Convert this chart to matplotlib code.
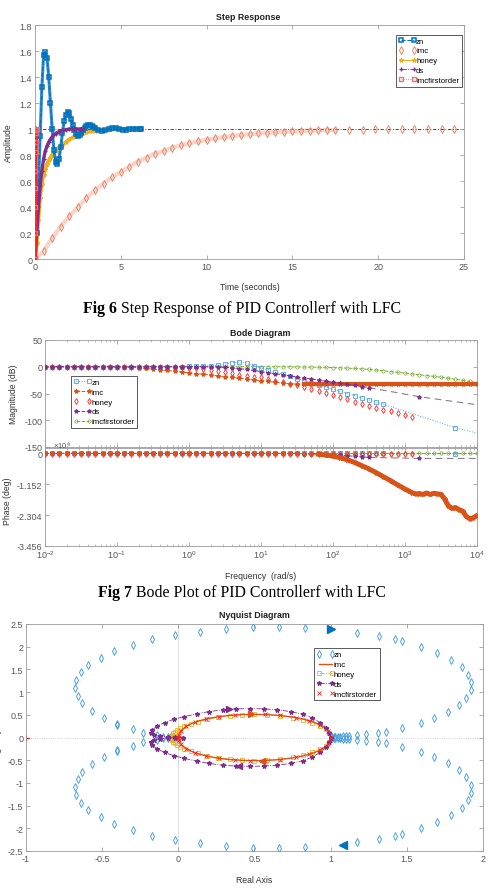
import numpy as np
import matplotlib
matplotlib.use('Agg')
import matplotlib.pyplot as plt

plt.rcParams['font.family'] = ['Liberation Sans', 'DejaVu Sans']
plt.rcParams['mathtext.fontset'] = 'custom'
plt.rcParams['mathtext.rm'] = 'Liberation Sans'
plt.rcParams['mathtext.it'] = 'Liberation Sans:italic'
plt.rcParams['axes.unicode_minus'] = False

# ---------------- Step response data ----------------
zn_t = [0.0, 0.1, 0.2, 0.3, 0.4, 0.5, 0.6, 0.7, 0.8, 0.9, 1.0, 1.1, 1.2, 1.3, 1.4, 1.5, 1.6, 1.7,
        1.8, 1.9, 2.0, 2.1, 2.2, 2.3, 2.4, 2.5, 2.6, 2.7, 2.8, 2.9, 3.0, 3.1, 3.2, 3.3, 3.4, 3.5,
        3.7, 3.9, 4.1, 4.3, 4.5, 4.7, 4.9, 5.1, 5.3, 5.5, 5.7, 5.9, 6.1, 6.2]
zn_y = [0.0, 0.2, 0.55, 0.95, 1.32, 1.57, 1.59, 1.55, 1.40, 1.20, 1.00, 0.84, 0.75, 0.73, 0.77, 0.86,
        0.97, 1.06, 1.11, 1.13, 1.12, 1.08, 1.03, 0.99, 0.96, 0.95, 0.955, 0.97, 0.99, 1.01, 1.025,
        1.03, 1.03, 1.025, 1.015, 1.005,
        0.99, 0.985, 0.99, 1.0, 1.01, 1.008, 1.0, 0.995, 0.995, 1.0, 1.002, 1.001, 1.0, 1.0]
imc_t = [0.0, 0.5, 1.0, 1.5, 2.0, 2.5, 3.0, 3.5, 4.0, 4.5, 5.0, 5.5, 6.0, 6.5, 7.0, 7.5, 8.0, 8.5,
         9.0, 9.5, 10.0, 10.5, 11.0, 11.5, 12.0, 12.5, 13.0, 13.5, 14.0, 14.5, 15.0, 15.5, 16.0,
         16.5, 17.0, 17.5]
imc_y = [0.0, 0.06, 0.16, 0.25, 0.33, 0.40, 0.47, 0.53, 0.58, 0.63, 0.67, 0.71, 0.75, 0.78, 0.81,
         0.83, 0.855, 0.875, 0.89, 0.905, 0.915, 0.927, 0.937, 0.945, 0.953, 0.96, 0.966, 0.971,
         0.975, 0.979, 0.982, 0.985, 0.987, 0.989, 0.991, 0.992]
imc_tail_t = [18.3, 19.1, 19.8, 20.6, 21.4, 22.1, 22.9, 23.7, 24.4]
imc_tail_y = [0.995, 0.996, 0.997, 0.998, 0.998, 0.999, 0.999, 1.0, 1.0]
honey_t = [0.0, 0.1, 0.2, 0.3, 0.4, 0.5, 0.6, 0.7, 0.8, 0.9, 1.0, 1.2, 1.4, 1.6, 1.8, 2.0, 2.2, 2.4,
           2.6, 2.8, 3.0, 3.3, 3.6, 4.0, 4.5, 5.0, 5.5, 6.0]
honey_y = [0.0, 0.12, 0.3, 0.47, 0.58, 0.65, 0.69, 0.73, 0.76, 0.78, 0.8, 0.83, 0.86, 0.88, 0.9,
           0.92, 0.935, 0.95, 0.96, 0.97, 0.975, 0.982, 0.988, 0.993, 0.997, 1.0, 1.0, 1.0]
ds_t = [0.0, 0.1, 0.2, 0.3, 0.4, 0.5, 0.6, 0.7, 0.8, 0.9, 1.0, 1.2, 1.4, 1.6, 1.8, 2.0, 2.2, 2.4, 2.6, 2.8]
ds_y = [0.0, 0.2, 0.4, 0.56, 0.68, 0.77, 0.83, 0.87, 0.9, 0.92, 0.94, 0.965, 0.98, 0.99, 0.995,
        1.0, 1.0, 1.0, 1.0, 1.0]
fo_t = [0.0, 0.005, 0.01, 0.015, 0.02, 0.03, 0.04, 0.06, 0.08, 0.1]
fo_y = [0.0, 0.2, 0.4, 0.55, 0.68, 0.82, 0.9, 0.97, 0.99, 1.0]

# ---------------- Bode data (log10 of rad/s) ----------------
bode_logw = np.linspace(-2.0, 4.0, 61)
zn_mag = [0.0] * 17 + [0.1, 0.2, 0.3, 0.5,
          0.8, 1.3, 2.0, 3.2, 5.0, 7.5, 8.8, 6.5, 2.0, -2.0,
          -6, -10, -14, -18, -22, -26, -30, -34, -38, -42, -46, -50, -54, -58, -62, -66, -70]
zn_mag_tail_logw = [2.7, 3.7, 4.0]
zn_mag_tail = [-70, -114, -124]
imc_mag = [0.0] * 10 + [-0.5, -0.8, -1.2, -2.0, -3.2, -4.5, -5.8, -7.0, -8.5, -10.0,
           -11.5, -12.8, -14, -15.5, -17, -18.5, -20, -21.5, -23, -24.5,
           -26, -27.5, -29, -30.5, -31.8, -32.5, -33] + [-33.0] * 24
honey_mag = [0.0] * 19 + [-0.5, -1.5,
             -3, -4.5, -6.5, -8.5, -10.5, -12.5, -14.5, -16.5, -18.5, -20,
             -23, -26, -29, -32, -35, -38, -42, -45.5, -49, -53,
             -57, -61, -65, -69, -73, -76.5, -80, -83.5, -87, -90, -93]
ds_mag = [0.0] * 24 + [-0.5, -1.2, -2.2, -3.5, -5, -7, -9,
          -11, -13, -15, -17, -19, -21, -23, -25, -27, -29, -31, -33, -35, -37, -39]
ds_mag_tail_logw = [2.5, 3.2, 4.0]
ds_mag_tail = [-39, -56, -71]
fo_mag = [0.0] * 35 + [-0.2, -0.4, -0.6, -0.9, -1.2, -1.6, -2.0, -2.6, -3.2, -4.0, -5.0, -6.2,
          -7.5, -9, -10.5, -12, -13.5, -15, -16.5, -18, -19.5, -21.5, -23.5, -25.5, -27.5, -30]

# phase in units of 1e4 deg
zn_phase = [0.0] * 48
zn_phase_tail = [0.0, -0.01, -0.01]
imc_phase_logw = list(bode_logw[:38]) + [1.8, 1.9, 2.0, 2.1, 2.2, 2.3, 2.4, 2.5, 2.6, 2.7, 2.8, 2.9,
                                          3.0, 3.05, 3.1, 3.15, 3.2, 3.25, 3.3, 3.35, 3.4, 3.45, 3.5,
                                          3.55, 3.6, 3.65, 3.7, 3.75, 3.8, 3.85, 3.9, 3.95, 4.0]
imc_phase = [0.0] * 36 + [-0.01, -0.02,
             -0.03, -0.06, -0.1, -0.16, -0.24, -0.34, -0.46, -0.58, -0.72, -0.87, -1.02, -1.18, -1.33,
             -1.40, -1.47, -1.51, -1.50, -1.53, -1.48, -1.53, -1.49, -1.51, -1.53, -1.70, -1.95,
             -2.05, -2.02, -2.10, -2.15, -2.35, -2.44, -2.40, -2.32]
honey_phase = [-0.02] * 52
ds_phase = [0.0] * 36 + [-0.01, -0.02, -0.03, -0.045, -0.06, -0.075, -0.09, -0.11, -0.13, -0.15]
ds_phase_tail = [-0.15, -0.19, -0.19]
fo_phase = [0.0] * 61

# ---------------- Nyquist data (upper half; lower half is the conjugate) ----------------
nzn_x = [1.0, 1.01, 1.02, 1.03, 1.045, 1.06, 1.08, 1.1, 1.12, 1.17, 1.23, 1.31, 1.36, 1.47, 1.59,
         1.68, 1.77, 1.84, 1.89, 1.92, 1.92, 1.90, 1.86, 1.79, 1.70, 1.59, 1.47, 1.42, 1.32, 1.17,
         0.83, 0.66, 0.49, 0.31, 0.14, -0.02, -0.17, -0.30, -0.42, -0.51, -0.59, -0.64, -0.67,
         -0.68, -0.66, -0.63, -0.57, -0.49, -0.40, -0.40, -0.30, -0.23, -0.14, -0.10, -0.07,
         -0.05, -0.03, -0.01]
nzn_y = [0.0, 0.003, 0.005, 0.008, 0.012, 0.018, 0.025, 0.03, 0.04, 0.05, 0.07, 0.095, 0.12, 0.21,
         0.31, 0.42, 0.57, 0.71, 0.88, 1.05, 1.22, 1.38, 1.55, 1.71, 1.87, 2.0, 2.12, 2.16, 2.23,
         2.31, 2.42, 2.44, 2.43, 2.39, 2.33, 2.26, 2.18, 2.04, 1.90, 1.76, 1.60, 1.44, 1.27, 1.09,
         0.91, 0.75, 0.59, 0.43, 0.30, 0.28, 0.18, 0.11, 0.05, 0.02, 0.01, 0.005, 0.002, 0.0]
nimc_x = [1.0, 0.995, 0.98, 0.95, 0.91, 0.86, 0.8, 0.73, 0.65, 0.57, 0.5, 0.43, 0.35, 0.27, 0.2,
          0.14, 0.09, 0.05, 0.02, 0.005, 0.0]
nimc_y = [0.0, 0.08, 0.16, 0.24, 0.31, 0.37, 0.42, 0.46, 0.49, 0.505, 0.51, 0.505, 0.49, 0.46,
          0.42, 0.37, 0.31, 0.24, 0.16, 0.08, 0.0]
nhoney_x = [1.0, 0.99, 0.97, 0.93, 0.88, 0.82, 0.75, 0.67, 0.58, 0.5, 0.42, 0.34, 0.26, 0.19, 0.13,
            0.08, 0.04, 0.01, -0.01, -0.025, -0.035, -0.04, -0.035, -0.03, -0.02, -0.01, 0.0]
nhoney_y = [0.0, 0.09, 0.18, 0.26, 0.33, 0.39, 0.44, 0.48, 0.5, 0.51, 0.5, 0.48, 0.45, 0.4, 0.35,
            0.3, 0.25, 0.2, 0.16, 0.12, 0.09, 0.06, 0.04, 0.025, 0.012, 0.005, 0.0]
nds_x = [1.0, 0.99, 0.97, 0.93, 0.88, 0.82, 0.74, 0.65, 0.56, 0.47, 0.38, 0.29, 0.2, 0.12, 0.04,
         -0.03, -0.09, -0.14, -0.17, -0.18, -0.16, -0.12, -0.07, -0.02, 0.03]
nds_y = [0.0, 0.1, 0.22, 0.33, 0.43, 0.51, 0.57, 0.61, 0.63, 0.635, 0.63, 0.61, 0.57, 0.52, 0.46,
         0.4, 0.33, 0.25, 0.17, 0.1, 0.06, 0.03, 0.015, 0.005, 0.0]
nfo_x = [1.0, 0.98, 0.93, 0.86, 0.77, 0.67, 0.57, 0.47, 0.37, 0.27, 0.18, 0.11, 0.05, 0.02, 0.005, 0.0]
nfo_y = [0.0, 0.15, 0.28, 0.37, 0.44, 0.49, 0.51, 0.51, 0.5, 0.46, 0.41, 0.34, 0.25, 0.15, 0.05, 0.0]
arrow_zn = ([1.0, 1.08], [2.38, -2.37])
arrow_ds = ([0.33, 0.40], [0.62, -0.63])
arrow_imc = ([0.48, 0.55], [0.51, -0.51])

# ---------------- styling ----------------
C_BLUE = '#0072BD'
C_LBLUE = '#4DA3DF'
C_ORANGE = '#D95319'
C_SALMON = '#E8896A'
C_YELLOW = '#EDB120'
C_PURPLE = '#7E2F8E'
C_GREEN = '#77AC30'
C_RED = '#FF2020'
C_PINK = '#E8707E'

W, H = 491, 895
fig = plt.figure(figsize=(W / 100, H / 100), dpi=100)


def rect(l, t, r, b):
    return [l / W, 1 - b / H, (r - l) / W, (b - t) / H]


def style(ax):
    for s in ax.spines.values():
        s.set_color('#9a9a9a')
        s.set_linewidth(0.6)
    ax.tick_params(which='both', direction='in', top=True, right=True, color='#8a8a8a',
                   labelsize=6.5, labelcolor='#555555', pad=2)
    ax.tick_params(which='major', length=3, width=0.5)
    ax.tick_params(which='minor', length=1.6, width=0.4)


LBL = dict(fontsize=6.2, color='#303030')
TTL = dict(fontsize=6.4, fontweight='bold', color='#202020', ha='center', va='center')
LEG = dict(fontsize=5.6, numpoints=2, handlelength=2.2, handletextpad=0.0, borderpad=0.35,
           labelspacing=0.3, fancybox=False, framealpha=1)

# ======== Step response ========
ax1 = fig.add_axes(rect(35, 26, 464, 260))
style(ax1)
ax1.set_xlim(0, 25)
ax1.set_ylim(0, 1.8)
ax1.set_xticks([0, 5, 10, 15, 20, 25])
yt = [0, 0.2, 0.4, 0.6, 0.8, 1.0, 1.2, 1.4, 1.6, 1.8]
ax1.set_yticks(yt)
ax1.set_yticklabels(['0', '0.2', '0.4', '0.6', '0.8', '1', '1.2', '1.4', '1.6', '1.8'])
ax1.axhline(1.0, color='#303030', lw=0.6, ls=(0, (4, 2, 1, 2)), zorder=1)

ax1.plot(imc_t, imc_y, color=C_SALMON, lw=3.2, alpha=0.35, zorder=2)
ax1.plot(imc_t + imc_tail_t, imc_y + imc_tail_y, ls='none', marker='d', ms=4, mfc='none',
         mec=C_SALMON, mew=0.7, label='imc', zorder=3)
ax1.plot(honey_t, honey_y, color=C_YELLOW, lw=2.6, zorder=3)
ax1.plot(honey_t, honey_y, color=C_YELLOW, lw=0.8, marker='*', ms=3, label='honey', zorder=3)
ax1.plot(zn_t, zn_y, color='#1a7cc4', lw=2.2, alpha=0.9, zorder=4)
ax1.plot(zn_t, zn_y, color=C_BLUE, lw=0.8, ls='--', marker='s', ms=3.5, mfc='none', mew=1.1,
         label='zn', zorder=4)
ax1.plot(ds_t, ds_y, color=C_PURPLE, lw=2.4, zorder=5)
ax1.plot(ds_t, ds_y, color=C_PURPLE, lw=0.6, ls='-.', marker='+', ms=3, label='ds', zorder=5)
ax1.plot(fo_t, fo_y, color=C_RED, lw=3.2, zorder=6)
ax1.plot(fo_t, fo_y, color=C_PINK, lw=0.6, ls=':', marker='s', ms=2.5, mfc='none',
         label='imcfirstorder', zorder=6)

h, l = ax1.get_legend_handles_labels()
order = [l.index(n) for n in ['zn', 'imc', 'honey', 'ds', 'imcfirstorder']]
lg = ax1.legend([h[i] for i in order], [l[i] for i in order], loc='upper left',
                bbox_to_anchor=(0.833, 0.976), **LEG)
lg.get_frame().set_edgecolor('#404040')
lg.get_frame().set_linewidth(0.6)
ax1.set_xlabel('Time (seconds)', **LBL)
ax1.xaxis.set_label_coords(0.5, -0.098)
ax1.set_ylabel('Amplitude', **LBL)
ax1.yaxis.set_label_coords(-0.051, 0.5)
fig.text(248 / W, 1 - 17 / H, 'Step Response', **TTL)

# ======== Bode magnitude ========
axm = fig.add_axes(rect(45, 341, 477, 448))
axp = fig.add_axes(rect(45, 449, 477, 547))
for a in (axm, axp):
    style(a)
    a.set_xscale('log')
    a.set_xlim(1e-2, 1e4)

w = 10 ** bode_logw
axm.set_ylim(-150, 50)
axm.set_yticks([-150, -100, -50, 0, 50])
axm.tick_params(labelbottom=False)

axm.plot(w[:48], zn_mag, color=C_LBLUE, ls=':', lw=0.7, marker='s', ms=2.6, mfc='none', mew=0.6,
         label='zn', zorder=3)
axm.plot(10 ** np.array(zn_mag_tail_logw), zn_mag_tail, color=C_LBLUE, ls=':', lw=0.7,
         marker='s', ms=2.6, mfc='none', mew=0.6, markevery=[1], zorder=3)
axm.plot(w, imc_mag, color=C_ORANGE, lw=0.7, ls='--', marker='*', ms=3, label='imc', zorder=4)
axm.plot(w[36:], imc_mag[36:], color=C_ORANGE, lw=3.0, zorder=4)
axm.plot(w[:52], honey_mag, ls='none', marker='d', ms=3, mfc='none', mec=C_RED, mew=0.6,
         label='honey', zorder=3)
axm.plot(w[:46], ds_mag, color=C_PURPLE, lw=0.7, ls='--', marker='*', ms=2.8, label='ds', zorder=4)
axm.plot(10 ** np.array(ds_mag_tail_logw), ds_mag_tail, color='#8a7a98', lw=0.8, ls=(0, (6, 4)),
         marker='*', ms=2.8, mfc=C_PURPLE, mec=C_PURPLE, markevery=[1], zorder=3)
axm.plot(w, fo_mag, color=C_GREEN, lw=0.7, ls='--', marker='o', ms=2.4, mfc='none', mew=0.5,
         label='imcfirstorder', zorder=2)

h, l = axm.get_legend_handles_labels()
lg2 = axm.legend(h, l, loc='upper left', bbox_to_anchor=(0.052, 0.70), **LEG)
lg2.get_frame().set_edgecolor('#404040')
lg2.get_frame().set_linewidth(0.6)
axm.set_ylabel('Magnitude (dB)', **LBL)
axm.yaxis.set_label_coords(-0.0625, 0.5)

# ======== Bode phase ========
axp.set_ylim(-3.456, 0.2)
axp.set_yticks([0, -1.152, -2.304, -3.456])
axp.set_yticklabels(['0', '-1.152', '-2.304', '-3.456'])
axp.set_xticks([1e-2, 1e-1, 1e0, 1e1, 1e2, 1e3, 1e4])
axp.plot(w[:48], zn_phase, color=C_LBLUE, ls=':', lw=0.7, marker='s', ms=2.6, mfc='none', mew=0.6,
         zorder=3)
axp.plot(10 ** np.array(zn_mag_tail_logw), zn_phase_tail, color=C_LBLUE, ls=':', lw=0.7,
         marker='s', ms=2.6, mfc='none', mew=0.6, markevery=[1], zorder=3)
axp.plot(w, fo_phase, color=C_GREEN, lw=0.7, ls='--', marker='o', ms=2.4, mfc='none', mew=0.5,
         zorder=2)
axp.plot(w[:52], honey_phase, ls='none', marker='d', ms=3, mfc='none', mec=C_RED, mew=0.6, zorder=3)
axp.plot(w[:46], ds_phase, color=C_PURPLE, lw=0.7, ls='--', marker='*', ms=2.8, zorder=4)
axp.plot(10 ** np.array(ds_mag_tail_logw), ds_phase_tail, color='#8a7a98', lw=0.8, ls=(0, (6, 4)),
         marker='*', ms=2.8, mfc=C_PURPLE, mec=C_PURPLE, markevery=[1], zorder=3)
wi = 10 ** np.array(imc_phase_logw)
axp.plot(wi, imc_phase, color=C_ORANGE, lw=0.7, ls='--', marker='*', ms=3, zorder=5)
axp.plot(wi[38:], imc_phase[38:], color=C_ORANGE, lw=3.6, zorder=5)
axp.set_ylabel('Phase (deg)', **LBL)
axp.yaxis.set_label_coords(-0.076, 0.47)
axp.set_xlabel('Frequency  (rad/s)', **LBL)
axp.xaxis.set_label_coords(0.5, -0.255)
fig.text(53 / W, 1 - 446 / H, r'$\times10^4$', fontsize=5.5, color='#555555', ha='left', va='center')
fig.text(260 / W, 1 - 333 / H, 'Bode Diagram', **TTL)

# ======== Nyquist ========
axn = fig.add_axes(rect(26, 625, 483, 852))
style(axn)
axn.set_xlim(-1, 2)
axn.set_ylim(-2.5, 2.5)
axn.set_xticks([-1, -0.5, 0, 0.5, 1, 1.5, 2])
axn.set_xticklabels(['-1', '-0.5', '0', '0.5', '1', '1.5', '2'])
axn.set_yticks([-2.5, -2, -1.5, -1, -0.5, 0, 0.5, 1, 1.5, 2, 2.5])
axn.set_yticklabels(['-2.5', '-2', '-1.5', '-1', '-0.5', '0', '0.5', '1', '1.5', '2', '2.5'])
axn.axvline(0, color='#d8d8d8', lw=0.6, zorder=0)
axn.axhline(0, color='#c8c8c8', lw=0.6, ls=':', zorder=0)
axn.plot([-1], [0], marker='+', color='red', ms=4, mew=0.8, ls='none', zorder=2)


def both(xs, ys):
    xs = list(xs)
    ys = list(ys)
    return xs + xs[::-1], ys + [-v for v in ys[::-1]]


x, y = both(nzn_x, nzn_y)
axn.plot(x, y, ls='none', marker='d', ms=3.8, mfc='none', mec=C_LBLUE, mew=0.7, label='zn', zorder=3)
x, y = both(nimc_x, nimc_y)
axn.plot(x, y, color=C_ORANGE, lw=1.0, label='imc', zorder=4)
x, y = both(nhoney_x, nhoney_y)
axn.plot(x, y, color=C_YELLOW, lw=0.6, ls='-.', marker='s', ms=3, mfc='none', mew=0.6,
         label='honey', zorder=3)
x, y = both(nds_x, nds_y)
axn.plot(x, y, color=C_PURPLE, lw=0.6, ls='-.', marker='*', ms=3.2, label='ds', zorder=4)
x, y = both(nfo_x, nfo_y)
axn.plot(x, y, ls='none', marker='x', ms=2.4, mew=0.6, color=C_RED, label='imcfirstorder', zorder=5)

axn.plot([arrow_zn[0][0]], [arrow_zn[1][0]], marker='>', ms=5.5, color=C_BLUE, ls='none', zorder=6)
axn.plot([arrow_zn[0][1]], [arrow_zn[1][1]], marker='<', ms=5.5, color=C_BLUE, ls='none', zorder=6)
axn.plot([arrow_ds[0][0]], [arrow_ds[1][0]], marker='>', ms=5, color=C_PURPLE, ls='none', zorder=6)
axn.plot([arrow_ds[0][1]], [arrow_ds[1][1]], marker='<', ms=5, color=C_PURPLE, ls='none', zorder=6)
axn.plot([arrow_imc[0][0]], [arrow_imc[1][0]], marker='>', ms=5, color=C_ORANGE, ls='none', zorder=6)
axn.plot([arrow_imc[0][1]], [arrow_imc[1][1]], marker='<', ms=5, color=C_ORANGE, ls='none', zorder=6)

lg3 = axn.legend(loc='upper left', bbox_to_anchor=(0.622, 0.91), **LEG)
lg3.get_frame().set_edgecolor('#404040')
lg3.get_frame().set_linewidth(0.6)
axn.set_xlabel('Real Axis', **LBL)
axn.xaxis.set_label_coords(0.5, -0.106)
axn.set_ylabel('Imaginary Axis', **LBL)
axn.yaxis.set_label_coords(-0.0525, 0.5)
fig.text(254 / W, 1 - 616 / H, 'Nyquist Diagram', **TTL)

# ======== Captions ========
fig.canvas.draw()
renderer = fig.canvas.get_renderer()


def caption(x_px, y_px, bold, rest, size=11.4):
    t1 = fig.text(x_px / W, 1 - y_px / H, bold, fontsize=size, fontweight='bold',
                  family=['Liberation Serif', 'DejaVu Serif'], ha='left', va='center')
    bb = t1.get_window_extent(renderer=renderer)
    fig.text((bb.x1 + 3.8) / W, 1 - y_px / H, rest, fontsize=size,
             family=['Liberation Serif', 'DejaVu Serif'], ha='left', va='center')


caption(83, 309, 'Fig 6', 'Step Response of PID Controllerf with LFC')
caption(98, 593, 'Fig 7', 'Bode Plot of PID Controllerf with LFC')

fig.savefig('out.png', dpi=100)
